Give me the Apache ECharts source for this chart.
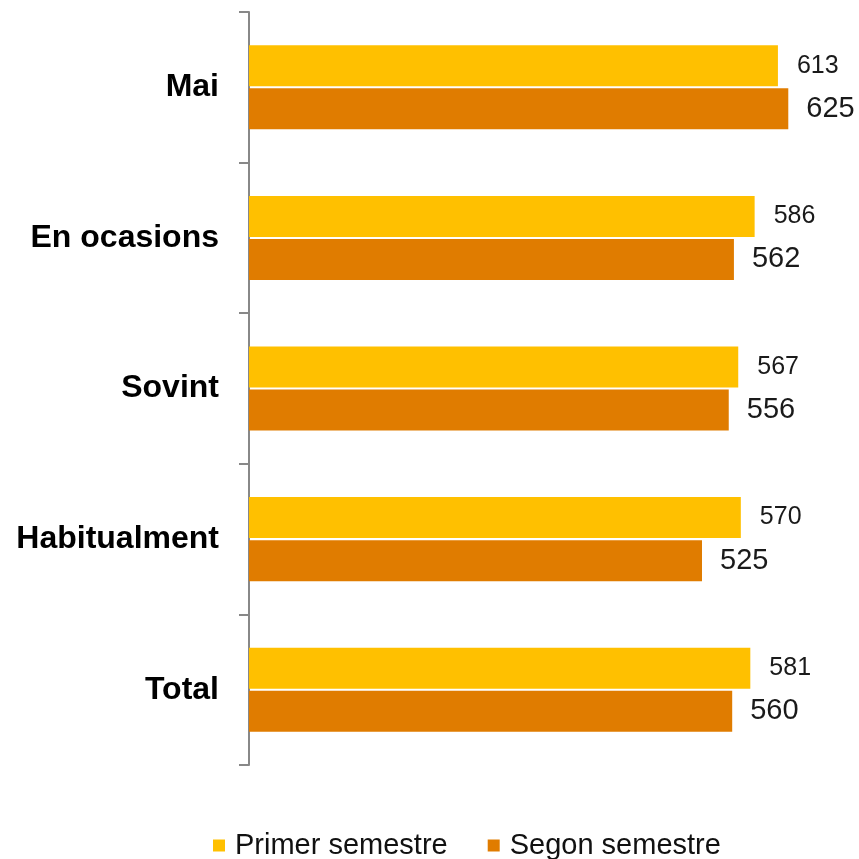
<!DOCTYPE html>
<html>
<head>
<meta charset="utf-8">
<script src="https://cdn.jsdelivr.net/npm/echarts@6/dist/echarts.min.js"></script>
<style>
  html, body { margin: 0; padding: 0; background: #fff; }
  #chart { width: 859px; height: 859px; }
</style>
</head>
<body>
<div id="chart"></div>
<script>
const categories = ["Mai", "En ocasions", "Sovint", "Habitualment", "Total"];
const primerSemestre = [613, 586, 567, 570, 581];
const segonSemestre = [625, 562, 556, 525, 560];

const chart = echarts.init(document.getElementById("chart"));

const option = {
  animation: false,
  textStyle: { fontFamily: "Liberation Sans, Arial, sans-serif" },
  grid: { left: 249, right: 6, top: 12, bottom: 94 },
  legend: {
    left: 208,
    top: 826,
    icon: "rect",
    itemWidth: 12,
    itemHeight: 12,
    itemGap: 40,
    textStyle: { fontSize: 29, color: "#111", padding: [0, 0, 0, 5] },
    data: ["Primer semestre", "Segon semestre"]
  },
  xAxis: {
    type: "value",
    min: 0,
    max: 700,
    show: false
  },
  yAxis: {
    type: "category",
    data: categories,
    inverse: true,
    axisLine: { show: true, lineStyle: { color: "#888", width: 2 } },
    axisTick: { show: true, length: 10, lineStyle: { color: "#888", width: 2 } },
    axisLabel: { fontSize: 32, fontWeight: "bold", color: "#000", margin: 30 }
  },
  series: [
    {
      name: "Primer semestre",
      type: "bar",
      data: primerSemestre,
      color: "#FFC000",
      barWidth: 41,
      barGap: "5%",
      label: { show: true, position: "right", distance: 19, fontSize: 25, color: "#1a1a1a" }
    },
    {
      name: "Segon semestre",
      type: "bar",
      data: segonSemestre,
      color: "#E07C00",
      barWidth: 41,
      barGap: "5%",
      label: { show: true, position: "right", distance: 18, fontSize: 29, color: "#1a1a1a" }
    }
  ]
};

chart.setOption(option);
</script>
</body>
</html>
